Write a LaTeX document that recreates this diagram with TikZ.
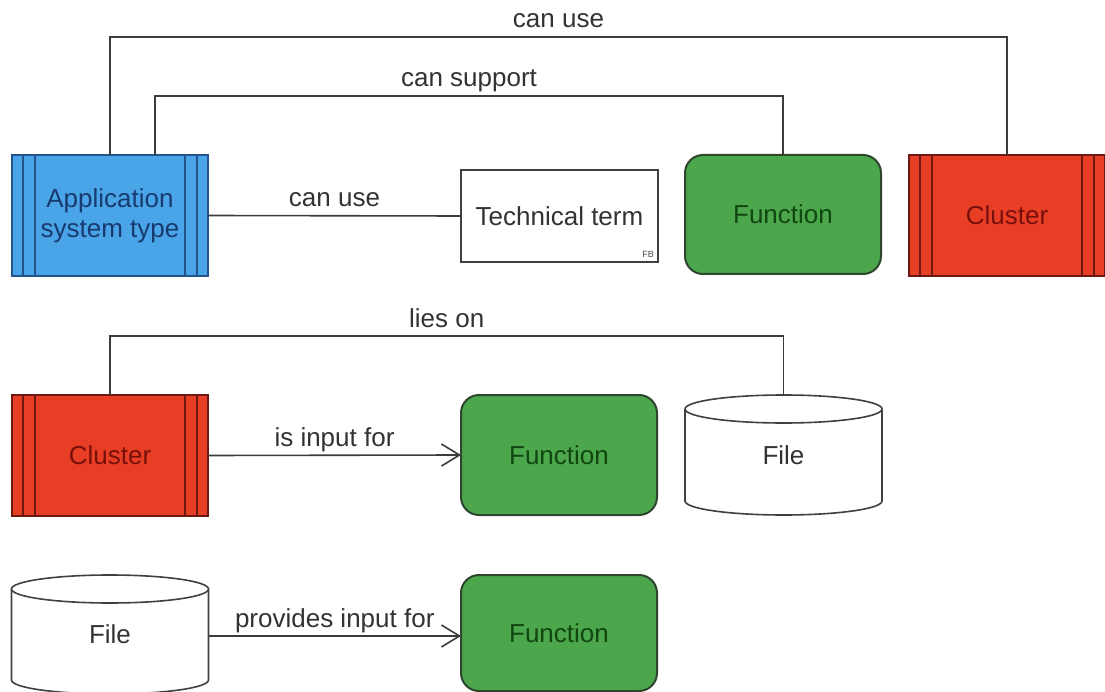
\documentclass[tikz,border=0pt]{standalone}
\usepackage{fontspec}
\setmainfont{Liberation Sans}
\usetikzlibrary{arrows.meta}

\definecolor{appfill}{RGB}{74,164,232}
\definecolor{appline}{RGB}{36,84,140}
\definecolor{apptext}{RGB}{24,58,110}
\definecolor{clfill}{RGB}{232,62,38}
\definecolor{clline}{RGB}{110,24,18}
\definecolor{cltext}{RGB}{120,16,12}
\definecolor{fnfill}{RGB}{76,166,76}
\definecolor{fnline}{RGB}{46,70,46}
\definecolor{fntext}{RGB}{16,70,16}
\definecolor{wire}{RGB}{60,60,60}

\newcommand\mainfs{\fontsize{26}{30}\selectfont}

% draws a cylinder (data store) around a named node
\newcommand\storebody[1]{%
  \draw[cylline] ([yshift=-14pt]#1.north west) -- ([yshift=14pt]#1.south west)
    arc[start angle=180,end angle=360,x radius=98.5pt,y radius=14pt]
    -- ([yshift=-14pt]#1.north east);
  \draw[cylline] ([yshift=-14pt]#1.north) ellipse[x radius=98.5pt,y radius=14pt];
}

\tikzset{
  bars/.style={path picture={
    \foreach \dx in {11,23}{
      \draw[#1,line width=1.6pt] ([xshift=\dx pt]path picture bounding box.north west) -- ([xshift=\dx pt]path picture bounding box.south west);
      \draw[#1,line width=1.6pt] ([xshift=-\dx pt]path picture bounding box.north east) -- ([xshift=-\dx pt]path picture bounding box.south east);
    }}},
  sysbox/.style={draw=appline, fill=appfill, line width=2pt, bars=appline,
    minimum width=196pt, minimum height=121pt, text=apptext, align=center,
    font=\mainfs, inner sep=0pt, outer sep=0pt},
  clbox/.style={draw=clline, fill=clfill, line width=2pt, bars=clline,
    minimum width=196pt, minimum height=121pt, text=cltext,
    font=\mainfs, inner sep=0pt, outer sep=0pt},
  fnbox/.style={draw=fnline, fill=fnfill, line width=2pt, rounded corners=18pt,
    minimum width=196pt, minimum height=119pt, text=fntext,
    font=\mainfs, inner sep=0pt, outer sep=0pt},
  termbox/.style={draw=black!75, fill=white, line width=1.8pt,
    minimum width=197pt, minimum height=92pt, text=black!80,
    font=\mainfs, inner sep=0pt, outer sep=0pt},
  storebox/.style={minimum width=197pt, minimum height=120pt, text=black!80,
    font=\mainfs, inner sep=0pt, outer sep=0pt},
  cylline/.style={draw=black!75, fill=white, line width=1.6pt},
  conn/.style={draw=wire, line width=1.6pt},
  flow/.style={conn, -{Straight Barb[length=18pt,width=22pt,line width=1.6pt]}},
  lbl/.style={midway, anchor=base, yshift=9pt, inner sep=0pt, text=black!80, font=\mainfs},
}

\begin{document}
\begin{tikzpicture}[x=1pt,y=-1pt]
\useasboundingbox (0,0) rectangle (1105,692);
\fill[white] (0,0) rectangle (1105,692);

% first row
\node[sysbox] (ast) at (110,215.5) {Application\\system type};
\node[termbox] (tt) at (559.5,216) {Technical term};
\node[anchor=south east, inner sep=4pt, font=\fontsize{9}{10}\selectfont, text=black!70] (fb) at (tt.south east) {FB};
\node[fnbox] (fn1) at (783,214.5) {Function};
\node[clbox] (cl1) at (1007,215.5) {Cluster};

% second row
\node[clbox] (cl2) at (110,455.5) {Cluster};
\node[fnbox, minimum height=120pt] (fn2) at (559,455) {Function};
\node[storebox] (file1) at (783.5,455) {};
\storebody{file1}
\node[text=black!80, font=\mainfs] at (file1.center) {File};

% third row
\node[storebox, minimum height=119pt] (file2) at (110,634.5) {};
\storebody{file2}
\node[text=black!80, font=\mainfs] at (file2.center) {File};
\node[fnbox, minimum height=116pt] (fn3) at (559,633) {Function};

% connectors
\coordinate (s1) at ([xshift=45pt]ast.north);
\draw[conn] (ast.north) -- (ast.north |- 0,37) -- node[lbl]{can use} (cl1.north |- 0,37) -- (cl1.north);
\draw[conn] (s1) -- (s1 |- 0,96) -- node[lbl]{can support} (fn1.north |- 0,96) -- (fn1.north);
\draw[conn] (ast.east) -- node[lbl]{can use} (tt.west);
\draw[conn] (cl2.north) -- (cl2.north |- 0,336) -- node[lbl]{lies on} (file1.north |- 0,336) -- (file1.north);
\draw[flow] (cl2.east) -- node[lbl]{is input for} (fn2.west);
\draw[flow] (file2.east |- 0,636) -- node[lbl]{provides input for} (fn3.west |- 0,636);
\end{tikzpicture}
\end{document}
